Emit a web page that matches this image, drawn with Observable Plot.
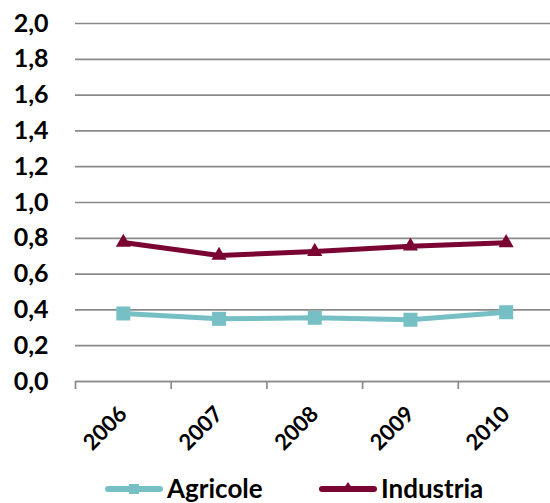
<!DOCTYPE html>
<html><head><meta charset="utf-8">
<script src="https://cdn.jsdelivr.net/npm/d3@7"></script>
<script src="https://cdn.jsdelivr.net/npm/@observablehq/plot@0.6"></script>
<style>
body{margin:0;background:#fff;font-family:Lato,"Open Sans",sans-serif;}
#wrap{position:relative;width:550px;height:503px;overflow:hidden;background:#fff;}
#legend{position:absolute;left:0;top:468px;width:550px;height:40px;}
.item{position:absolute;top:0;display:flex;align-items:center;font-weight:bold;font-size:26px;color:#000;line-height:40px;white-space:nowrap;}
.item svg{margin-right:4px;}
</style></head><body><div id="wrap"><div id="chart"></div><div id="legend"></div></div>
<script>
const years = [2006, 2007, 2008, 2009, 2010];
const agricole = [0.38, 0.35, 0.356, 0.345, 0.387];
const industria = [0.777, 0.704, 0.726, 0.756, 0.775];
const seriesNames = ["Agricole", "Industria"];
const seriesColors = ["#76C0C5", "#7A0533"];
const yTicks = [0, 0.2, 0.4, 0.6, 0.8, 1.0, 1.2, 1.4, 1.6, 1.8, 2.0];
const tickBounds = [2005.5, 2006.5, 2007.5, 2008.5, 2009.5];

const data = [];
years.forEach((y, i) => {
  data.push({year: y, value: agricole[i], series: seriesNames[0]});
  data.push({year: y, value: industria[i], series: seriesNames[1]});
});
const gray = "#8a8a8a";
const fmt = d => d.toFixed(1).replace(".", ",");

const chart = Plot.plot({
  width: 550,
  height: 465,
  marginTop: 23,
  marginBottom: 84,
  marginLeft: 75,
  marginRight: 0,
  style: {fontFamily: "Lato, 'Open Sans', sans-serif", fontWeight: "bold", color: "#000", background: "#fff"},
  x: {type: "linear", domain: [2005.5, 2010.5], range: [75, 553.5], label: null},
  y: {domain: [0, 2], label: null},
  color: {domain: seriesNames, range: seriesColors},
  marks: [
    Plot.gridY(yTicks, {stroke: gray, strokeOpacity: 1, strokeWidth: 1.7}),
    Plot.axisY({ticks: yTicks, tickSize: 0, tickPadding: 27, tickFormat: fmt, fontSize: 25, fontWeight: "bold", fill: "#000", label: null}),
    Plot.axisX({ticks: tickBounds, tickSize: 8, tickFormat: () => "", stroke: gray, strokeWidth: 1.7, strokeOpacity: 1, label: null}),
    Plot.axisX({ticks: years, tickSize: 0, tickRotate: -45, tickPadding: 29, tickFormat: d => String(d), fontSize: 22, fontWeight: "bold", fill: "#000", label: null}),
    Plot.ruleY([0], {stroke: gray, strokeWidth: 1.7}),
    Plot.line(data, {x: "year", y: "value", stroke: "series", strokeWidth: 5}),
    Plot.dot(data.filter(d => d.series === seriesNames[0]), {x: "year", y: "value", fill: "series", symbol: "square", r: 7.9}),
    Plot.dot(data.filter(d => d.series === seriesNames[1]), {x: "year", y: "value", fill: "series", symbol: "triangle", r: 5.6})
  ]
});
document.getElementById("chart").appendChild(chart);

const legend = document.getElementById("legend");
const legendPos = [105, 319];
seriesNames.forEach((name, i) => {
  const item = document.createElement("div");
  item.className = "item";
  item.style.left = legendPos[i] + "px";
  const c = seriesColors[i];
  const marker = i === 0
    ? `<rect x="24" y="16" width="10" height="10" fill="${c}"/>`
    : `<path d="M29,14 L35,23 L23,23 Z" fill="${c}"/>`;
  item.innerHTML = `<svg width="58" height="40" viewBox="0 0 58 40"><line x1="3" y1="21" x2="55" y2="21" stroke="${c}" stroke-width="6" stroke-linecap="round"/>${marker}</svg><span>${name}</span>`;
  legend.appendChild(item);
});
</script>
</body></html>
